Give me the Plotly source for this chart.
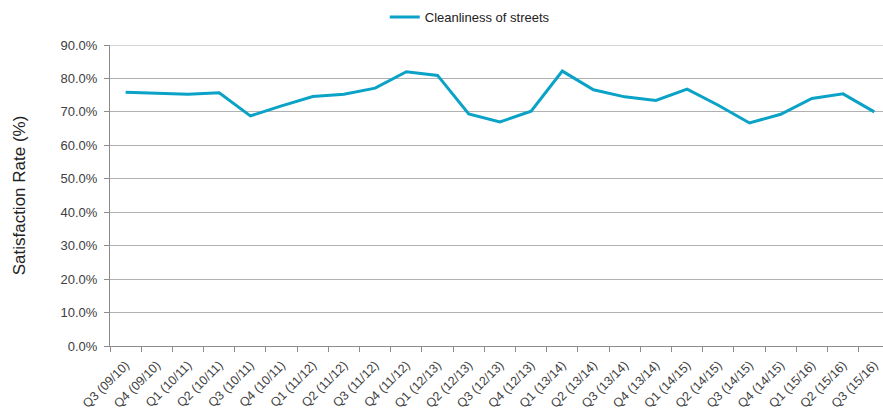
import plotly.graph_objects as go

categories = ["Q3 (09/10)", "Q4 (09/10)", "Q1 (10/11)", "Q2 (10/11)", "Q3 (10/11)", "Q4 (10/11)",
              "Q1 (11/12)", "Q2 (11/12)", "Q3 (11/12)", "Q4 (11/12)",
              "Q1 (12/13)", "Q2 (12/13)", "Q3 (12/13)", "Q4 (12/13)",
              "Q1 (13/14)", "Q2 (13/14)", "Q3 (13/14)", "Q4 (13/14)",
              "Q1 (14/15)", "Q2 (14/15)", "Q3 (14/15)", "Q4 (14/15)",
              "Q1 (15/16)", "Q2 (15/16)", "Q3 (15/16)"]
cleanliness = [0.759, 0.755, 0.753, 0.757, 0.688, 0.718, 0.746, 0.753, 0.771, 0.820,
               0.809, 0.694, 0.670, 0.702, 0.822, 0.766, 0.745, 0.734, 0.768, 0.720,
               0.667, 0.693, 0.740, 0.754, 0.700]
y_ticks = [i / 10 for i in range(10)]

x_idx = list(range(len(categories)))

fig = go.Figure()
fig.add_trace(go.Scatter(
    x=x_idx, y=cleanliness, mode="lines", name="Cleanliness of streets",
    line=dict(color="#0AA2C6", width=3),
))

fig.update_layout(
    width=883, height=410,
    margin=dict(l=110, r=0, t=45, b=64),
    paper_bgcolor="white", plot_bgcolor="white",
    font=dict(family="Liberation Sans, Arial, sans-serif", size=12, color="#404040"),
    showlegend=True,
    legend=dict(orientation="h", xref="container", yref="container",
                x=0.532, xanchor="center", y=0.995, yanchor="top",
                font=dict(size=13, color="#222222"), itemwidth=30),
    xaxis=dict(
        tickmode="array", tickvals=x_idx, ticktext=categories,
        range=[-0.5, 24.28], tickangle=-45,
        showline=True, linecolor="#8c8c8c", linewidth=1,
        ticks="", showgrid=False, zeroline=False,
        ticklabelstandoff=6,
        tickfont=dict(size=12.5, color="#404040"),
        minor=dict(tickmode="array", tickvals=[i - 0.5 for i in range(26)],
                   ticks="outside", ticklen=5, tickcolor="#8c8c8c", showgrid=False),
    ),
    yaxis=dict(
        range=[0, 0.9], tickvals=y_ticks, tickformat=".1%",
        showline=True, linecolor="#8c8c8c", linewidth=1,
        ticks="outside", ticklen=5, tickcolor="#8c8c8c",
        showgrid=True, gridcolor="#b0b0b0", gridwidth=1, zeroline=False,
        ticklabelstandoff=4,
        tickfont=dict(size=13, color="#404040"),
        title=dict(text="Satisfaction Rate (%)", font=dict(size=17, color="#222222"), standoff=30),
    ),
)
# top gridline at 90%
fig.add_shape(type="line", xref="paper", yref="y", x0=0, x1=1, y0=0.9, y1=0.9,
              line=dict(color="#b0b0b0", width=1), layer="below")

fig.write_html("out.html")
